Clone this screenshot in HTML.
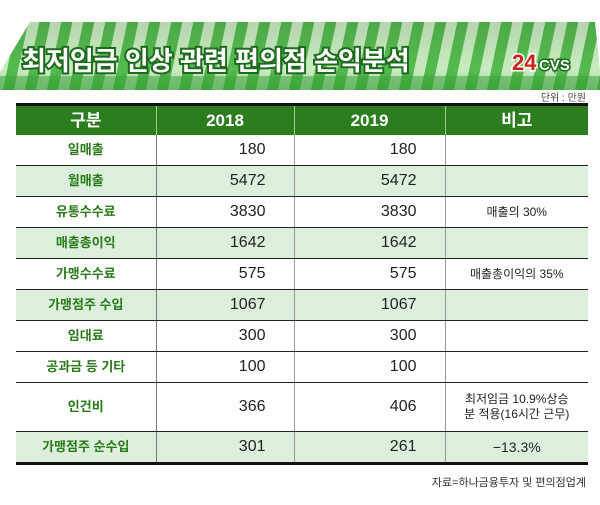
<!DOCTYPE html>
<html><head><meta charset="utf-8"><style>
body{margin:0;width:600px;height:505px;background:#fff;font-family:"Liberation Sans","Noto Sans CJK KR",sans-serif;position:relative;overflow:hidden}
.t{position:absolute;left:16px;top:103px;border-collapse:collapse;width:572px;table-layout:fixed}
.t td{height:30px;padding:0;font-size:16px;color:#222;border-bottom:1.5px solid #222;border-left:1px solid #999;line-height:16px}
.t td:first-child{border-left:none;border-right:1px solid #777;text-align:center;color:#2a7a1a;font-weight:bold;font-size:13px}
.t th{background:#2c7d1e;color:#fff;height:29px;padding:0;font-size:17px;border-left:1px solid #9c9;border-top:3px solid #111;line-height:18px}
.t th:first-child{border-left:none}
.n{text-align:right;padding-right:28px!important}
.c{text-align:center;font-size:12px!important}
.g td{background:#dcefdc}
</style></head><body>
<svg width="600" height="95" style="position:absolute;left:0;top:0">
<defs>
<pattern id="s" width="22" height="100" patternUnits="userSpaceOnUse" patternTransform="skewX(-12)">
<rect width="22" height="100" fill="#c8ecc0"/><rect width="11" height="100" fill="#55bb50"/></pattern>
<linearGradient id="sh" x1="0" y1="0" x2="0" y2="1"><stop offset="0" stop-color="#000" stop-opacity=".1"/><stop offset=".7" stop-color="#000" stop-opacity="0"/><stop offset="1" stop-color="#000" stop-opacity=".15"/></linearGradient>
</defs>
<polygon points="30,22 595,22 600,70 600,90 0,90 0,72" fill="url(#s)"/>
<polygon points="30,22 595,22 600,70 600,90 0,90 0,72" fill="url(#sh)"/>
<rect x="0" y="76" width="600" height="14" fill="#3aa83a" opacity=".55"/>
<text x="22" y="70" font-family="Liberation Sans,Noto Sans CJK KR,sans-serif" font-weight="bold" font-size="26" fill="#fff" stroke="#1e6b1e" stroke-width="4" paint-order="stroke">최저임금 인상 관련 편의점 손익분석</text>
<text x="512" y="70" font-family="Liberation Sans,sans-serif" font-weight="bold" font-size="22" fill="#d0201a" stroke="#fff" stroke-width="3" paint-order="stroke">24</text>
<text x="539" y="70" font-family="Liberation Sans,sans-serif" font-weight="bold" font-size="15" fill="#fff" stroke="#1e6b1e" stroke-width="3" paint-order="stroke">CVS</text>
</svg>
<div style="position:absolute;right:14px;top:89px;font-size:10px;color:#444">단위 : 만원</div>
<table class="t">
<colgroup><col style="width:140px"><col style="width:138px"><col style="width:151px"><col></colgroup>
<tr><th>구분</th><th>2018</th><th>2019</th><th>비고</th></tr>
<tr><td>일매출</td><td class="n">180</td><td class="n">180</td><td></td></tr>
<tr class="g"><td>월매출</td><td class="n">5472</td><td class="n">5472</td><td></td></tr>
<tr><td>유통수수료</td><td class="n">3830</td><td class="n">3830</td><td class="c">매출의 30%</td></tr>
<tr class="g"><td>매출총이익</td><td class="n">1642</td><td class="n">1642</td><td></td></tr>
<tr><td>가맹수수료</td><td class="n">575</td><td class="n">575</td><td class="c">매출총이익의 35%</td></tr>
<tr class="g"><td>가맹점주 수입</td><td class="n">1067</td><td class="n">1067</td><td></td></tr>
<tr><td>임대료</td><td class="n">300</td><td class="n">300</td><td></td></tr>
<tr><td>공과금 등 기타</td><td class="n">100</td><td class="n">100</td><td></td></tr>
<tr><td style="height:48px">인건비</td><td class="n">366</td><td class="n">406</td><td class="c" style="line-height:15px">최저임금 10.9%상승<br>분 적용(16시간 근무)</td></tr>
<tr class="g"><td style="border-bottom:3px solid #111">가맹점주 순수입</td><td class="n" style="border-bottom:3px solid #111">301</td><td class="n" style="border-bottom:3px solid #111">261</td><td class="c" style="font-size:14px!important;border-bottom:3px solid #111">−13.3%</td></tr>
</table>
<div style="position:absolute;right:14px;top:474px;font-size:11px;color:#333">자료=하나금융투자 및 편의점업계</div>
</body></html>
